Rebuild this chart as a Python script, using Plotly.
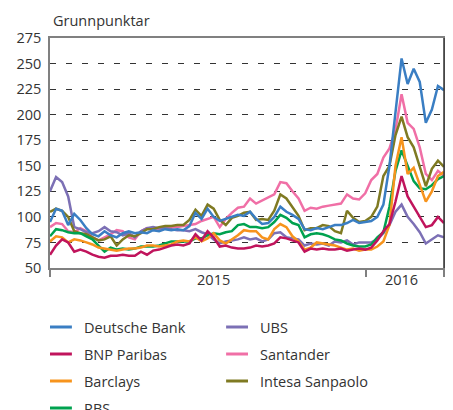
import pandas as pd
import plotly.graph_objects as go

# ---------------- data (basis points, weekly readings) ----------------
dates = pd.date_range("2015-01-01", periods=66, freq="7D")

deutsche_bank = [95,108,106,92,103,97,89,83,81,86, 82,80,84,86,84,85,84,87,86,88,
                 87,88,87,91,104,98,108,100,96,98, 100,102,101,105,98,93,94,100,110,105,
                 102,98,88,87,89,88,90,92,92,94, 97,94,95,96,100,112,150,200,255,230,
                 245,232,192,205,228,224]
bnp_paribas = [63,72,78,75,66,68,66,63,61,60, 62,62,63,62,62,66,63,67,68,70,
               72,73,72,74,83,77,86,80,71,72, 70,69,69,70,72,71,72,74,80,79,
               77,75,66,69,68,69,68,68,69,67, 68,69,68,70,77,86,93,115,140,120,
               110,100,90,92,100,94]
barclays = [76,81,80,75,78,77,75,73,70,69, 68,67,68,69,69,70,72,72,71,72,
            73,76,77,76,80,76,79,84,77,74, 78,82,87,86,86,80,78,88,93,90,
            81,76,68,70,75,74,73,72,70,68, 69,67,68,68,71,76,92,150,178,142,
            148,132,115,125,140,144]
rbs = [81,88,87,85,84,84,81,78,72,66, 70,68,69,68,69,71,71,71,72,74,
       76,76,76,76,79,79,82,84,83,85, 86,92,93,90,90,89,90,95,102,99,
       94,92,80,83,84,83,81,78,77,74, 72,71,71,73,80,85,110,145,165,150,
       135,128,127,131,137,140]
ubs = [125,139,134,120,90,88,85,84,86,90, 86,85,82,84,80,86,89,90,89,89,
       88,87,87,86,88,85,83,78,74,76, 77,78,80,78,79,76,78,84,85,80,
       79,78,72,74,73,74,72,76,75,77, 73,75,75,75,78,84,92,105,112,100,
       93,85,74,78,82,80]
santander = [90,94,93,86,85,89,86,80,77,80, 83,87,86,80,78,86,89,88,88,89,
             90,90,91,92,93,96,98,100,90,98, 104,109,110,118,113,116,119,122,134,133,
             125,118,106,109,108,110,111,112,113,122, 118,117,123,136,142,158,167,185,220,192,
             186,168,142,136,145,140]
intesa = [105,108,106,100,86,84,83,80,77,78, 81,72,78,82,81,84,88,88,90,91,
          91,92,92,97,107,101,112,108,97,92, 99,101,104,105,97,98,97,106,122,118,
          110,101,87,89,89,92,91,86,84,106, 99,95,96,100,110,140,150,180,198,178,
          168,150,130,147,155,149]

legend_names = ["Deutsche Bank", "BNP Paribas", "Barclays", "RBS",
                "UBS", "Santander", "Intesa Sanpaolo"]
series = {
    "Deutsche Bank": deutsche_bank, "BNP Paribas": bnp_paribas, "Barclays": barclays,
    "RBS": rbs, "UBS": ubs, "Santander": santander, "Intesa Sanpaolo": intesa,
}
colors = {
    "Deutsche Bank": "#3a7ec3", "BNP Paribas": "#c0145c", "Barclays": "#f7941d",
    "RBS": "#00a24f", "UBS": "#7c70b5", "Santander": "#f06fa6",
    "Intesa Sanpaolo": "#7f7a22",
}
draw_order = ["Santander", "UBS", "Intesa Sanpaolo", "RBS", "Barclays",
              "BNP Paribas", "Deutsche Bank"]

y_ticks = [50, 75, 100, 125, 150, 175, 200, 225, 250, 275]
x_label_pos = ["2015-07-09", "2016-02-11"]
x_labels = ["2015", "2016"]
x_bounds = ["2015-01-01", "2016-01-01", "2016-03-31"]

# ---------------- figure ----------------
OFF = 8                      # page body margin
W, H = 453 - OFF, 410 - OFF
PL, PR, PT, PB = 50, 446, 38, 268   # plot box in page pixels
ML, MR, MT, MB = PL - OFF, W - (PR - OFF), PT - OFF, H - (PB - OFF)
PW, PH = PR - PL, PB - PT
FONT = "Open Sans"
FS = 14.5
TXT = "#333333"

def px(xp):
    return (xp - PL) / PW

def py(yp):
    return (PB - yp) / PH

fig = go.Figure()
for name in draw_order:
    fig.add_trace(go.Scatter(x=dates, y=series[name], mode="lines", name=name,
                             line=dict(color=colors[name], width=2.5),
                             showlegend=False))

shapes = []
annotations = []
for i, name in enumerate(legend_names):
    col, row = (0, i) if i < 4 else (1, i - 4)
    x0 = 50 + col * 177
    yc = 327 + 27 * row
    shapes.append(dict(type="line", xref="paper", yref="paper",
                       x0=px(x0), x1=px(x0 + 22), y0=py(yc), y1=py(yc),
                       line=dict(color=colors[name], width=3)))
    annotations.append(dict(text=name, xref="paper", yref="paper",
                            x=px(x0 + 32), y=py(yc), xanchor="left", yanchor="middle",
                            showarrow=False, font=dict(family=FONT, size=FS, color=TXT)))

annotations.append(dict(text="Grunnpunktar", xref="paper", yref="paper",
                        x=px(51), y=py(21), xanchor="left", yanchor="middle",
                        showarrow=False, font=dict(family=FONT, size=FS, color=TXT)))

shapes.append(dict(type="line", xref="paper", yref="paper", x0=1, x1=1, y0=0, y1=1,
                   line=dict(color="#333333", width=1.5), layer="above"))

fig.update_layout(
    width=W, height=H,
    margin=dict(l=ML, r=MR, t=MT, b=MB),
    paper_bgcolor="white", plot_bgcolor="white",
    font=dict(family=FONT, size=FS, color=TXT),
    shapes=shapes, annotations=annotations,
    showlegend=False,
)
fig.update_xaxes(
    type="date", range=[x_bounds[0], x_bounds[-1]],
    tickmode="array", tickvals=x_label_pos, ticktext=x_labels,
    ticks="", showgrid=False, zeroline=False,
    showline=True, linecolor="#808080", linewidth=1.5, mirror=True,
    ticklabelstandoff=-2,
    minor=dict(tickmode="array", tickvals=x_bounds, ticks="outside", ticklen=7,
               tickcolor="#808080", tickwidth=1.5, showgrid=False),
)
fig.update_yaxes(
    range=[50, 275], tickmode="array", tickvals=y_ticks,
    ticks="", showgrid=True, gridcolor="#333333", gridwidth=1, griddash="6px,10px",
    zeroline=False, showline=True, linecolor="#808080", linewidth=1.5, mirror=True,
    ticklabelstandoff=4,
)

fig.write_html("out.html")
